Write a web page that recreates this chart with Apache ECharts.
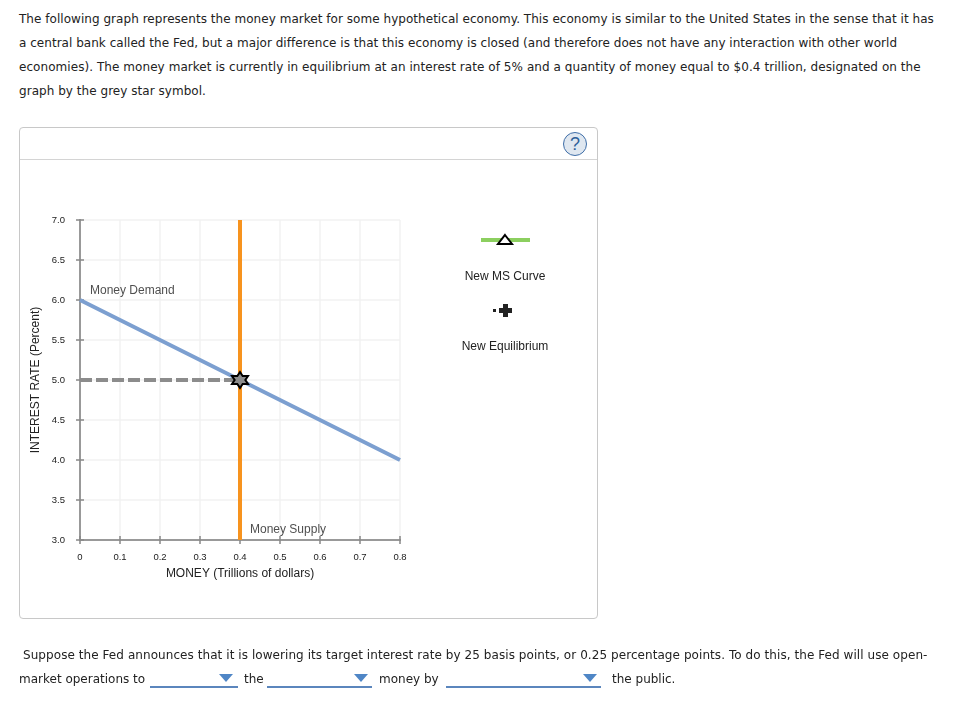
<!DOCTYPE html>
<html>
<head>
<meta charset="utf-8">
<title>Money market</title>
<script src="https://cdn.jsdelivr.net/npm/echarts@6/dist/echarts.min.js"></script>
<style>
	html, body { margin: 0; padding: 0; background: #fff; }
	#page { position: relative; width: 968px; height: 708px; overflow: hidden; }
	#panel { position: absolute; left: 19px; top: 127px; width: 577px; height: 490px; border: 1px solid #c8c8c8; border-radius: 4px; }
	#panel-head { position: absolute; left: 0; top: 31px; width: 100%; border-top: 1px solid #d4d4d4; }
	#help { position: absolute; left: 543px; top: 4px; width: 22px; height: 22px; border: 1.5px solid #3f6ea8; border-radius: 50%; background: #dfe7f0; color: #2f5f99; text-align: center; font: 18px/22px "Liberation Sans", sans-serif; }
	#chart { position: absolute; left: 0; top: 0; width: 968px; height: 708px; }
	.txt { position: absolute; white-space: nowrap; font: 12px/18px "DejaVu Sans", sans-serif; color: #222; }
	.pick { position: absolute; top: 686px; height: 0; border-top: 2px solid #5b86bd; }
	.arrow { position: absolute; top: 674px; width: 0; height: 0; border-left: 7px solid transparent; border-right: 7px solid transparent; border-top: 8px solid #4f86c6; }
</style>
</head>
<body>
<div id="page">
	<div class="txt" style="left:19px;top:10px;letter-spacing:0.04px">The following graph represents the money market for some hypothetical economy. This economy is similar to the United States in the sense that it has</div>
	<div class="txt" style="left:19px;top:34px;letter-spacing:0.03px">a central bank called the Fed, but a major difference is that this economy is closed (and therefore does not have any interaction with other world</div>
	<div class="txt" style="left:19px;top:58px;letter-spacing:0.06px">economies). The money market is currently in equilibrium at an interest rate of 5% and a quantity of money equal to $0.4 trillion, designated on the</div>
	<div class="txt" style="left:19px;top:82px;letter-spacing:0.04px">graph by the grey star symbol.</div>

	<div id="panel">
		<div id="panel-head"></div>
		<div id="help">?</div>
	</div>
	<div id="chart"></div>

	<div class="txt" style="left:23px;top:646px;letter-spacing:0.067px">Suppose the Fed announces that it is lowering its target interest rate by 25 basis points, or 0.25 percentage points. To do this, the Fed will use open-</div>
	<div class="txt" style="left:19px;top:670px">market operations to</div>
	<div class="pick" style="left:150px;width:88px"></div><div class="arrow" style="left:219px"></div>
	<div class="txt" style="left:244px;top:670px">the</div>
	<div class="pick" style="left:267px;width:105px"></div><div class="arrow" style="left:354px"></div>
	<div class="txt" style="left:379px;top:670px">money by</div>
	<div class="pick" style="left:446px;width:155px"></div><div class="arrow" style="left:583px"></div>
	<div class="txt" style="left:612px;top:670px">the public.</div>
</div>
<script>
var xTicks = [0, 0.1, 0.2, 0.3, 0.4, 0.5, 0.6, 0.7, 0.8],
	yTicks = [3, 3.5, 4, 4.5, 5, 5.5, 6, 6.5, 7],
	demandMoney = [0, 0.8],
	demandRate = [6, 4],
	supplyMoney = [0.4, 0.4],
	supplyRate = [3, 7],
	guideMoney = [0, 0.4],
	guideRate = [5, 5],
	equilibriumMoney = [0.4],
	equilibriumRate = [5],
	curveLabels = ['Money Demand', 'Money Supply'],
	curveLabelMoney = [0.025, 0.425],
	curveLabelRate = [6.12, 3.125];

function pairs(xs, ys){
	return xs.map(function(x, i){ return [x, ys[i]]; });
}

// 六角星
var starPath = 'path://M50 0 L64.4 25 L93.3 25 L78.9 50 L93.3 75 L64.4 75 L50 100 L35.6 75 L6.7 75 L21.1 50 L6.7 25 L35.6 25 Z';

var font = '"Liberation Sans", Arial, sans-serif',
	axisColor = '#999',
	gridColor = '#f2f2f2';

function xAxisOf(inside){
	return {
		type: 'value', position: 'bottom', min: xTicks[0], max: xTicks[xTicks.length-1], interval: 0.1,
		axisLine: { onZero: false, lineStyle: { color: axisColor, width: 2 } },
		axisTick: { inside: inside, length: 4, lineStyle: { color: '#888', width: 1.5 } },
		splitLine: { show: !inside, lineStyle: { color: gridColor, width: 1.5 } },
		axisLabel: {
			show: !inside, color: '#222', fontFamily: font, fontSize: 9.5, margin: 12,
			formatter: function(v){ return v === 0 ? '0' : v.toFixed(1); },
			showMaxLabel: true, showMinLabel: true
		},
		name: inside ? '' : 'MONEY (Trillions of dollars)',
		nameLocation: 'middle', nameGap: 28,
		nameTextStyle: { color: '#222', fontFamily: font, fontSize: 12 }
	};
}

function yAxisOf(inside){
	return {
		type: 'value', position: 'left', min: yTicks[0], max: yTicks[yTicks.length-1], interval: 0.5,
		axisLine: { onZero: false, lineStyle: { color: axisColor, width: 2 } },
		axisTick: { inside: inside, length: 4, lineStyle: { color: '#888', width: 1.5 } },
		splitLine: { show: !inside, lineStyle: { color: gridColor, width: 1.5 } },
		axisLabel: {
			show: !inside, color: '#222', fontFamily: font, fontSize: 9.5, margin: 15,
			formatter: function(v){ return v.toFixed(1); }
		},
		name: inside ? '' : 'INTEREST RATE (Percent)',
		nameLocation: 'middle', nameGap: 38,
		nameTextStyle: { color: '#222', fontFamily: font, fontSize: 12 }
	};
}

var chart = echarts.init(document.querySelector('#chart'), null, { renderer: 'canvas' });

chart.setOption({
	backgroundColor: 'transparent',
	animation: false,
	grid: { left: 80, top: 220, width: 320, height: 320, containLabel: false },
	xAxis: [xAxisOf(false), xAxisOf(true)],
	yAxis: [yAxisOf(false), yAxisOf(true)],
	series: [
		{
			name: 'Money Supply', type: 'line', showSymbol: false,
			data: pairs(supplyMoney, supplyRate),
			lineStyle: { color: '#f7931e', width: 4, cap: 'butt' }
		},
		{
			name: 'Money Demand', type: 'line', showSymbol: false,
			data: pairs(demandMoney, demandRate),
			lineStyle: { color: '#7c9fd0', width: 4, cap: 'butt' }
		},
		{
			name: 'Guide', type: 'line', showSymbol: false,
			data: pairs(guideMoney, guideRate),
			lineStyle: { color: '#8c8c8c', width: 4, type: [12, 4], cap: 'butt' }
		},
		{
			name: 'Equilibrium', type: 'scatter', symbol: starPath, symbolSize: 16,
			data: pairs(equilibriumMoney, equilibriumRate),
			itemStyle: { color: '#8c8c8c', borderColor: '#000', borderWidth: 2, opacity: 1 },
			z: 5
		},
		{
			name: 'Labels', type: 'scatter', symbolSize: 0,
			data: pairs(curveLabelMoney, curveLabelRate).map(function(p, i){
				return { value: p, label: { formatter: curveLabels[i] } };
			}),
			label: { show: true, position: 'right', distance: 0, color: '#222', fontFamily: font, fontSize: 12, padding: [2, 0, 0, 0] }
		}
	],
	graphic: [
		// 图例
		{ type: 'rect', shape: { x: 481, y: 238, width: 49, height: 4 }, style: { fill: '#8ccf5f' } },
		{ type: 'polygon', shape: { points: [[505, 235], [512, 244], [498, 244]] }, style: { fill: '#fff', stroke: '#000', lineWidth: 2 } },
		{ type: 'text', style: { x: 505, y: 277, text: 'New MS Curve', align: 'center', verticalAlign: 'middle', fill: '#222', font: '12px ' + font } },
		{ type: 'rect', shape: { x: 493, y: 309, width: 3, height: 3 }, style: { fill: '#222' } },
		{ type: 'polygon', shape: { points: [[503, 304], [508, 304], [508, 308], [512, 308], [512, 313], [508, 313], [508, 317], [503, 317], [503, 313], [499, 313], [499, 308], [503, 308]] }, style: { fill: '#222' } },
		{ type: 'text', style: { x: 505, y: 347, text: 'New Equilibrium', align: 'center', verticalAlign: 'middle', fill: '#222', font: '12px ' + font } }
	]
});
</script>
</body>
</html>
